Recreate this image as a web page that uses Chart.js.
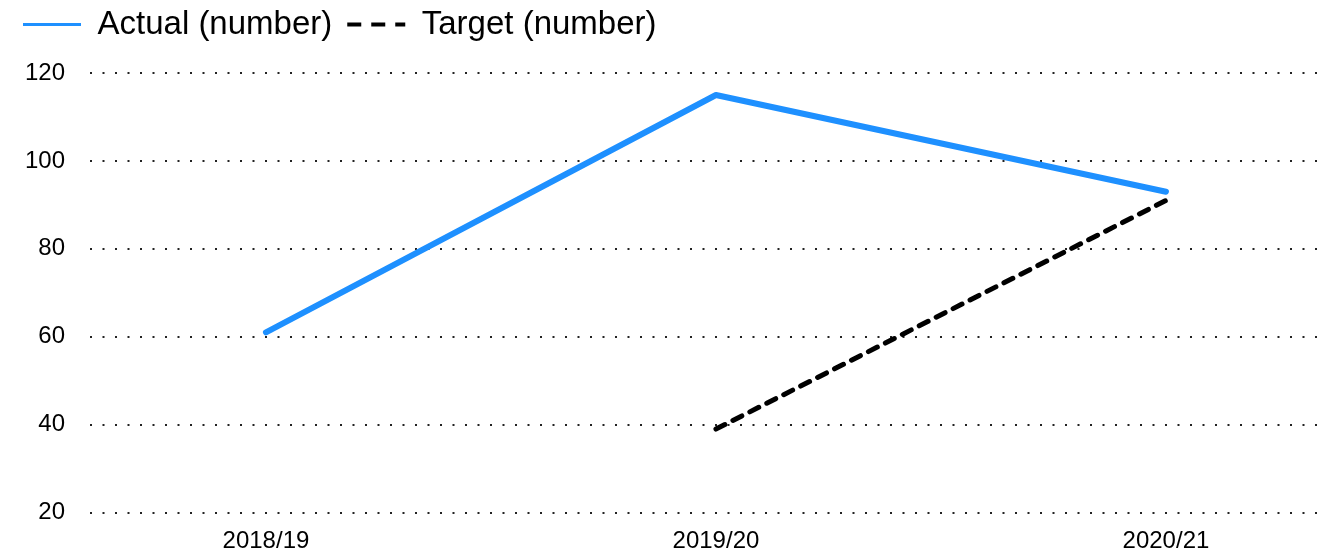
<!DOCTYPE html>
<html>
<head>
<meta charset="utf-8">
<script src="https://cdn.jsdelivr.net/npm/chart.js@4/dist/chart.umd.min.js"></script>
<style>
  body { margin: 0; background: #fff; }
  #wrap { width: 1333px; height: 552px; }
</style>
</head>
<body>
<div id="wrap"><canvas id="myChart"></canvas></div>
<script>
// values
const categories = ['2018/19', '2019/20', '2020/21'];
const actual = [61, 115, 93];
const target = [null, 39, 91];
const yMin = 20, yMax = 120, yStep = 20;

const toPoints = (arr) => arr.map((v, i) => ({ x: i, y: v }));

// push the plot down a little below the legend
const legendGap = {
  id: 'legendGap',
  beforeInit(chart) {
    const fit = chart.legend.fit;
    chart.legend.fit = function () {
      fit.bind(chart.legend)();
      this.height += 22;
    };
  }
};

const ctx = document.getElementById('myChart').getContext('2d');
new Chart(ctx, {
  type: 'line',
  data: {
    datasets: [
      {
        label: 'Actual (number)',
        data: toPoints(actual),
        borderColor: '#1e90ff',
        backgroundColor: '#1e90ff',
        borderWidth: 6,
        borderCapStyle: 'round',
        borderJoinStyle: 'round',
        pointRadius: 0,
        fill: false,
        tension: 0
      },
      {
        label: 'Target (number)',
        data: toPoints(target),
        borderColor: '#000',
        backgroundColor: '#000',
        borderWidth: 5,
        borderDash: [10, 9],
        borderCapStyle: 'round',
        pointRadius: 0,
        fill: false,
        spanGaps: false,
        tension: 0
      }
    ]
  },
  options: {
    responsive: true,
    maintainAspectRatio: false,
    animation: false,
    layout: { padding: { left: 8, right: 10, top: -7, bottom: 0 } },
    plugins: {
      tooltip: { enabled: false },
      legend: {
        position: 'top',
        align: 'start',
        labels: {
          color: '#000',
          font: { family: 'Liberation Sans, Arial, sans-serif', size: 33 },
          usePointStyle: true,
          pointStyleWidth: 58,
          padding: 15,
          generateLabels(chart) {
            return Chart.defaults.plugins.legend.labels.generateLabels(chart).map(item => {
              item.pointStyle = 'line';
              item.lineWidth = item.datasetIndex === 1 ? 4 : 3;
              if (item.datasetIndex === 1) item.lineDash = [14, 10];
              return item;
            });
          }
        }
      }
    },
    scales: {
      x: {
        type: 'linear',
        min: -0.391,
        max: 2.349,
        afterBuildTicks(scale) {
          scale.ticks = categories.map((c, i) => ({ value: i }));
        },
        afterFit(scale) { scale.height = 38; },
        grid: { display: false },
        border: { display: false },
        ticks: {
          color: '#000',
          font: { family: 'Liberation Sans, Arial, sans-serif', size: 24 },
          padding: 6,
          maxRotation: 0,
          autoSkip: false,
          callback: (v) => categories[v]
        }
      },
      y: {
        min: yMin,
        max: yMax,
        afterFit(scale) { scale.width = 82; },
        grid: {
          color: '#222',
          lineWidth: 2,
          drawTicks: false
        },
        border: { display: false, dash: [2, 10.5] },
        ticks: {
          stepSize: yStep,
          color: '#000',
          font: { family: 'Liberation Sans, Arial, sans-serif', size: 24 },
          padding: 25
        }
      }
    }
  },
  plugins: [legendGap]
});
</script>
</body>
</html>
